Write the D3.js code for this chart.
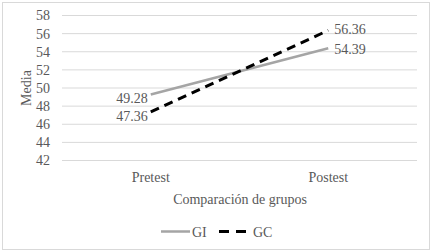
<!DOCTYPE html>
<html lang="es">
<head>
<meta charset="utf-8">
<script src="https://cdn.jsdelivr.net/npm/d3@7/dist/d3.min.js"></script>
<style>
  body { margin: 0; background: #fff; }
  svg text { font-family: "Liberation Serif", "Times New Roman", Times, "DejaVu Serif", serif !important; fill: #595959; }
</style>
</head>
<body>
<div id="chart"></div>
<script>
  const categories = ["Pretest", "Postest"];
  const giValues = [49.28, 54.39];
  const gcValues = [47.36, 56.36];
  const yTicks = [42, 44, 46, 48, 50, 52, 54, 56, 58];
  const seriesNames = ["GI", "GC"];

  const width = 432, height = 252;
  const svg = d3.select("#chart").append("svg").attr("width", width).attr("height", height);

  // outer frame
  svg.append("rect").attr("x", 2.5).attr("y", 2.5).attr("width", 427).attr("height", 247)
    .attr("fill", "#fff").attr("stroke", "#d9d9d9");

  const x = d3.scaleBand().domain(categories).range([62, 417]);
  const y = d3.scaleLinear().domain([42, 58]).range([160.5, 15.5]);

  // gridlines
  svg.append("g").selectAll("line")
    .data(yTicks)
    .enter()
    .append("line")
    .attr("x1", 62).attr("x2", 417)
    .attr("y1", function(d){return y(d);}).attr("y2", function(d){return y(d);})
    .attr("stroke", "#d9d9d9").attr("stroke-width", 1);

  const yAxis = d3.axisLeft(y).tickValues(yTicks).tickSize(0).tickPadding(12);
  const yG = svg.append("g").attr("transform", "translate(62,0)").call(yAxis);
  yG.attr("font-family", null).attr("font-size", null);
  yG.select(".domain").remove();
  yG.selectAll("text").style("font-size", "14px");

  const xAxis = d3.axisBottom(x).tickSize(0).tickPadding(12);
  const xG = svg.append("g").attr("transform", "translate(0,160.5)").call(xAxis);
  xG.attr("font-family", null).attr("font-size", null);
  xG.select(".domain").remove();
  xG.selectAll("text").style("font-size", "14px");

  svg.append("text").attr("x", 240).attr("y", 204).attr("text-anchor", "middle")
    .style("font-size", "14px").text("Comparación de grupos");
  svg.append("text").attr("transform", "translate(31,88) rotate(-90)").attr("text-anchor", "middle")
    .style("font-size", "14px").text("Media");

  const cx = function(i){return x(categories[i]) + x.bandwidth() / 2;};
  const line = d3.line().x(function(d, i){return cx(i);}).y(function(d){return y(d);});

  svg.append("path").attr("d", line(giValues)).attr("fill", "none")
    .attr("stroke", "#a5a5a5").attr("stroke-width", 2.5);
  svg.append("path").attr("d", line(gcValues)).attr("fill", "none")
    .attr("stroke", "#000").attr("stroke-width", 3).attr("stroke-dasharray", "9,6");

  // data labels
  function addLabels(vals, dyLeft, dyRight){
    svg.append("text").attr("x", cx(0) - 3).attr("y", y(vals[0]) + dyLeft)
      .attr("text-anchor", "end").style("font-size", "14px").text(vals[0].toFixed(2));
    svg.append("text").attr("x", cx(1) + 6).attr("y", y(vals[1]) + dyRight)
      .attr("text-anchor", "start").style("font-size", "14px").text(vals[1].toFixed(2));
  }
  addLabels(giValues, 8.5, 6);
  addLabels(gcValues, 9, 3.5);

  // legend
  const legend = svg.append("g");
  legend.append("line").attr("x1", 161).attr("x2", 190).attr("y1", 231.5).attr("y2", 231.5)
    .attr("stroke", "#a5a5a5").attr("stroke-width", 2.5);
  legend.append("text").attr("x", 192).attr("y", 236.5).style("font-size", "14px").text(seriesNames[0]);
  legend.append("line").attr("x1", 219).attr("x2", 250).attr("y1", 231.5).attr("y2", 231.5)
    .attr("stroke", "#000").attr("stroke-width", 3).attr("stroke-dasharray", "10,7");
  legend.append("text").attr("x", 253).attr("y", 236.5).style("font-size", "14px").text(seriesNames[1]);
</script>
</body>
</html>
